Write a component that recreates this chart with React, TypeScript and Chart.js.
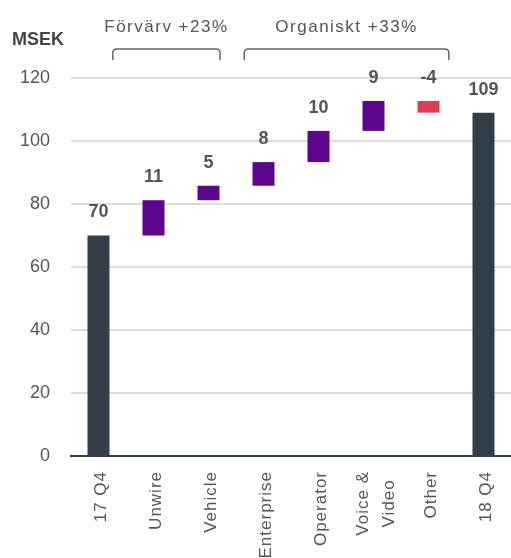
import React, { useEffect, useRef } from "react";
import { Chart, registerables } from "chart.js";

Chart.register(...registerables);

const categories: (string | string[])[] = ["17 Q4", "Unwire", "Vehicle", "Enterprise", "Operator", ["Voice &", "Video"], "Other", "18 Q4"];
const barStart = [0, 70, 81.2, 85.8, 93.3, 103.2, 112.7, 0];
const barEnd = [70, 81.2, 85.8, 93.3, 103.2, 112.7, 109, 109];
const valueLabels = ["70", "11", "5", "8", "10", "9", "-4", "109"];
const barColors = ["#333f48", "#5c068c", "#5c068c", "#5c068c", "#5c068c", "#5c068c", "#e03c52", "#333f48"];
const yTicks = [0, 20, 40, 60, 80, 100, 120];
const groupTitles = ["Förvärv +23%", "Organiskt +33%"];
const groupFrom = [0.26, 2.65];
const groupTo = [2.21, 6.37];

const FONT = "'Liberation Sans', Arial, sans-serif";

const annotations = {
  id: "annotations",
  afterDatasetsDraw(chart: any) {
    const ctx = chart.ctx;
    const meta = chart.getDatasetMeta(0);
    ctx.save();
    ctx.fillStyle = "#555";
    ctx.font = `bold 18px ${FONT}`;
    ctx.textAlign = "center";
    ctx.textBaseline = "middle";
    meta.data.forEach((el: any, i: number) => {
      const top = Math.min(el.y, el.base);
      ctx.fillText(valueLabels[i], el.x, top - 23);
    });
    ctx.restore();
  },
  afterDraw(chart: any) {
    const ctx = chart.ctx;
    const x = chart.scales.x;
    ctx.save();
    // MSEK label
    ctx.fillStyle = "#444";
    ctx.font = `bold 18px ${FONT}`;
    ctx.textAlign = "left";
    ctx.textBaseline = "middle";
    ctx.fillText("MSEK", 12, 40);
    // brackets and group titles
    for (let g = 0; g < groupTitles.length; g++) {
      const x1 = x.getPixelForValue(groupFrom[g]);
      const x2 = x.getPixelForValue(groupTo[g]);
      const yTop = 49;
      const yBot = 60;
      const r = 4;
      ctx.strokeStyle = "#666";
      ctx.lineWidth = 1.5;
      ctx.beginPath();
      ctx.moveTo(x1, yBot);
      ctx.lineTo(x1, yTop + r);
      ctx.quadraticCurveTo(x1, yTop, x1 + r, yTop);
      ctx.lineTo(x2 - r, yTop);
      ctx.quadraticCurveTo(x2, yTop, x2, yTop + r);
      ctx.lineTo(x2, yBot);
      ctx.stroke();
      ctx.fillStyle = "#555";
      ctx.font = `17px ${FONT}`;
      (ctx as any).letterSpacing = "1.5px";
      ctx.textAlign = "center";
      ctx.textBaseline = "middle";
      ctx.fillText(groupTitles[g], (x1 + x2) / 2, 27);
      (ctx as any).letterSpacing = "0px";
    }
    // rotated category labels
    ctx.fillStyle = "#555";
    ctx.font = `17px ${FONT}`;
    (ctx as any).letterSpacing = "1px";
    const yTopLabel = 471;
    const lineH = 26;
    categories.forEach((cat, i) => {
      const lines = Array.isArray(cat) ? cat : [cat];
      const widths = lines.map((l) => ctx.measureText(l).width);
      const W = Math.max(...widths);
      const cx = x.getPixelForTick(i) + 3;
      lines.forEach((line, j) => {
        const lx = cx + (j - (lines.length - 1) / 2) * lineH;
        ctx.save();
        ctx.translate(lx, yTopLabel);
        ctx.rotate(-Math.PI / 2);
        ctx.textAlign = "center";
        ctx.textBaseline = "middle";
        ctx.fillText(line, -W / 2, 0);
        ctx.restore();
      });
    });
    (ctx as any).letterSpacing = "0px";
    ctx.restore();
  },
};

export default function App() {
  const ref = useRef<HTMLCanvasElement>(null);
  useEffect(() => {
    document.body.style.margin = "0";
    const chart = new Chart(ref.current as HTMLCanvasElement, {
      type: "bar",
      data: {
        labels: categories as any,
        datasets: [
          {
            data: barStart.map((s, i) => [s, barEnd[i]]) as any,
            backgroundColor: barColors,
            borderWidth: 0,
            barPercentage: 0.4,
            categoryPercentage: 1,
          },
        ],
      },
      plugins: [annotations],
      options: {
        animation: false,
        responsive: false,
        maintainAspectRatio: false,
        layout: { padding: { top: 78, left: 0, right: 0, bottom: 0 } },
        plugins: { legend: { display: false }, tooltip: { enabled: false } },
        scales: {
          x: {
            grid: { display: false },
            border: { display: true, color: "#333f48", width: 2 },
            ticks: { display: false, autoSkip: false },
            afterFit(scale: any) {
              scale.height = 102;
            },
          },
          y: {
            min: 0,
            max: 120,
            afterBuildTicks(scale: any) {
              scale.ticks = yTicks.map((v) => ({ value: v }));
            },
            grid: { color: "#dcdcdc", lineWidth: 2, drawTicks: false },
            border: { display: false },
            ticks: {
              padding: 21,
              color: "#555",
              font: { family: FONT, size: 18 },
            },
            afterFit(scale: any) {
              scale.width = 71;
            },
          },
        },
      },
    });
    return () => chart.destroy();
  }, []);
  return (
    <div style={{ position: "absolute", left: 0, top: 0, width: 511, height: 558 }}>
      <canvas ref={ref} width={511} height={558} style={{ width: 511, height: 558 }} />
    </div>
  );
}
